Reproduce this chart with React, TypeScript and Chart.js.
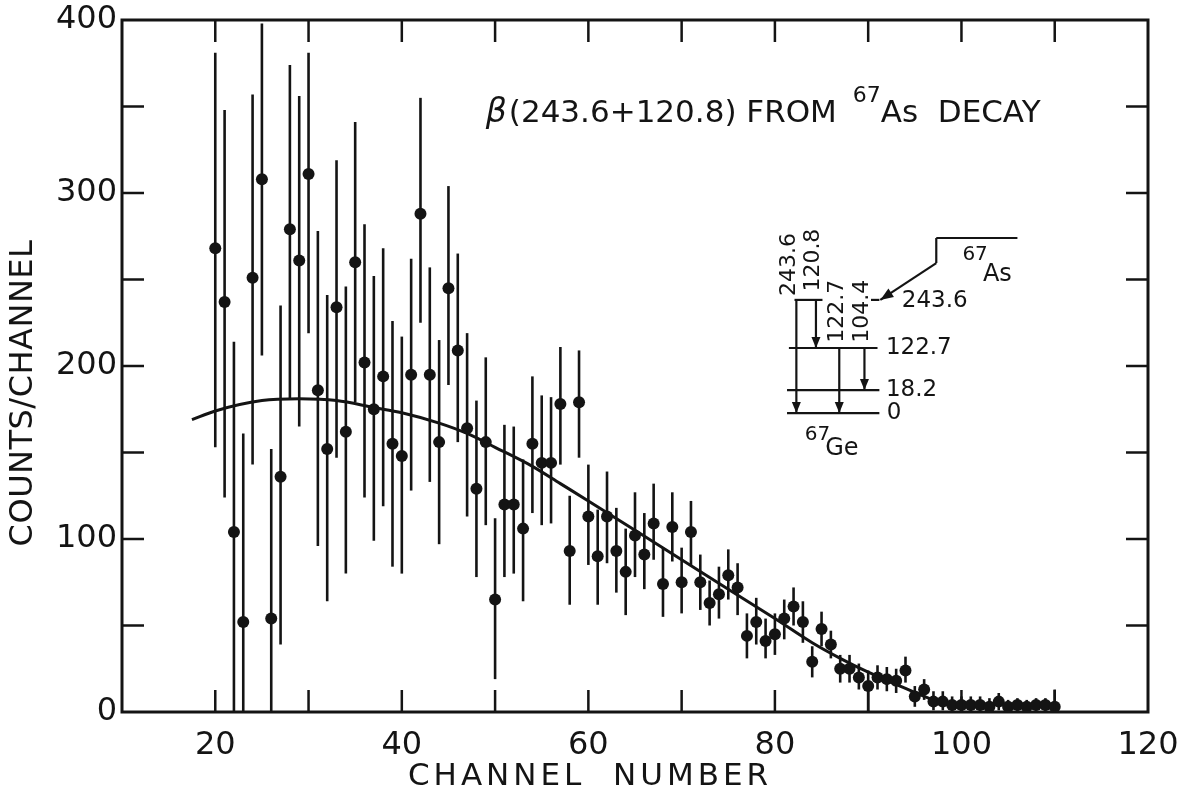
import React, { useEffect, useRef } from 'react';
import { Chart, registerables } from 'chart.js';

Chart.register(...registerables);

// ---- data ----
const channels = [
  20, 21, 22, 23, 24, 25, 26, 27, 28, 29,
  30, 31, 32, 33, 34, 35, 36, 37, 38, 39,
  40, 41, 42, 43, 44, 45, 46, 47, 48, 49,
  50, 51, 52, 53, 54, 55, 56, 57, 58, 59,
  60, 61, 62, 63, 64, 65, 66, 67, 68, 69,
  70, 71, 72, 73, 74, 75, 76, 77, 78, 79,
  80, 81, 82, 83, 84, 85, 86, 87, 88, 89,
  90, 91, 92, 93, 94, 95, 96, 97, 98, 99,
  100, 101, 102, 103, 104, 105, 106, 107, 108, 109, 110,
];
const counts = [
  268, 237, 104, 52, 251, 308, 54, 136, 279, 261,
  311, 186, 152, 234, 162, 260, 202, 175, 194, 155,
  148, 195, 288, 195, 156, 245, 209, 164, 129, 156,
  65, 120, 120, 106, 155, 144, 144, 178, 93, 179,
  113, 90, 113, 93, 81, 102, 91, 109, 74, 107,
  75, 104, 75, 63, 68, 79, 72, 44, 52, 41,
  45, 54, 61, 52, 29, 48, 39, 25, 25, 20,
  15, 20, 19, 18, 24, 9, 13, 6, 6, 4,
  4, 4, 4, 3, 6, 3, 4, 3, 4, 4, 3,
];
const errHigh = [
  381, 348, 214, 161, 357, 398, 152, 235, 374, 356,
  381, 278, 241, 319, 246, 341, 282, 252, 268, 226,
  217, 262, 355, 257, 215, 304, 265, 219, 180, 205,
  112, 166, 165, 146, 194, 183, 182, 211, 125, 209,
  143, 117, 139, 118, 106, 127, 115, 132, 95, 127,
  95, 122, 91, 76, 84, 94, 86, 57, 66, 54,
  57, 65, 72, 64, 38, 58, 47, 33, 33, 28,
  24, 27, 26, 25, 32, 15, 19, 12, 12, 9,
  9, 9, 9, 8, 11, 7, 8, 7, 8, 8, 13,
];
const errLow = [
  153, 124, 0, 0, 143, 206, 0, 39, 181, 165,
  219, 96, 64, 147, 80, 179, 124, 99, 119, 84,
  80, 128, 225, 133, 97, 189, 156, 113, 78, 108,
  19, 78, 80, 64, 115, 108, 109, 143, 62, 147,
  85, 62, 86, 69, 56, 78, 71, 88, 55, 87,
  57, 85, 59, 50, 54, 65, 56, 31, 39, 31,
  33, 42, 50, 40, 20, 38, 31, 17, 17, 13,
  0, 13, 12, 11, 17, 3, 7, 1, 1, 0,
  0, 0, 0, 0, 1, 0, 0, 0, 0, 0, 0,
];
const fitChannels = [17.5, 20, 25, 29, 33, 37, 40, 44, 47, 50, 54, 57, 60, 65, 70, 75, 80, 84, 87, 90, 93, 96, 98, 100];
const fitCounts = [169, 174, 180, 181, 180, 176, 173, 167, 161, 153, 142, 132, 122, 105, 88, 71, 54, 40, 31, 23, 16, 9, 5, 2];
const xTickLabels = [20, 40, 60, 80, 100, 120];
const yTickLabels = [0, 100, 200, 300, 400];

const FONT = '"DejaVu Sans", sans-serif';
const INK = '#141414';

const errorBarPlugin = {
  id: 'errorBars',
  beforeDatasetsDraw(chart: any) {
    const { ctx, scales } = chart;
    const x = scales.x, y = scales.y;
    ctx.save();
    ctx.strokeStyle = INK;
    ctx.lineWidth = 2.6;
    for (let i = 0; i < channels.length; i++) {
      const px = x.getPixelForValue(channels[i]);
      ctx.beginPath();
      ctx.moveTo(px, y.getPixelForValue(errHigh[i]));
      ctx.lineTo(px, y.getPixelForValue(errLow[i]));
      ctx.stroke();
    }
    ctx.restore();
  },
};

function arrowHead(ctx: CanvasRenderingContext2D, x0: number, y0: number, x1: number, y1: number, len = 11, half = 4.5) {
  const a = Math.atan2(y1 - y0, x1 - x0);
  ctx.beginPath();
  ctx.moveTo(x1, y1);
  ctx.lineTo(x1 - len * Math.cos(a) + half * Math.sin(a), y1 - len * Math.sin(a) - half * Math.cos(a));
  ctx.lineTo(x1 - len * Math.cos(a) - half * Math.sin(a), y1 - len * Math.sin(a) + half * Math.cos(a));
  ctx.closePath();
  ctx.fill();
}

const framePlugin = {
  id: 'frame',
  afterDraw(chart: any) {
    const { ctx, chartArea: a, scales } = chart;
    const x = scales.x, y = scales.y;
    const px = (v: number) => x.getPixelForValue(v);
    const py = (v: number) => y.getPixelForValue(v);
    ctx.save();
    ctx.strokeStyle = INK;
    ctx.fillStyle = INK;
    ctx.lineWidth = 3;
    ctx.strokeRect(a.left, a.top, a.right - a.left, a.bottom - a.top);
    // inward ticks
    const TL = 22;
    ctx.lineWidth = 2.5;
    x.ticks.forEach((t: any) => {
      if (t.value <= x.min || t.value >= x.max) return;
      const p = px(t.value);
      ctx.beginPath();
      ctx.moveTo(p, a.bottom); ctx.lineTo(p, a.bottom - TL);
      ctx.moveTo(p, a.top); ctx.lineTo(p, a.top + TL);
      ctx.stroke();
    });
    y.ticks.forEach((t: any) => {
      if (t.value <= y.min || t.value >= y.max) return;
      const p = py(t.value);
      ctx.beginPath();
      ctx.moveTo(a.left, p); ctx.lineTo(a.left + TL, p);
      ctx.moveTo(a.right, p); ctx.lineTo(a.right - TL, p);
      ctx.stroke();
    });

    // axis titles
    ctx.textBaseline = 'middle';
    ctx.textAlign = 'center';
    ctx.font = `31px ${FONT}`;
    (ctx as any).letterSpacing = '4px';
    ctx.fillText('CHANNEL  NUMBER', 590, 777);
    ctx.save();
    ctx.translate(24, 393);
    ctx.rotate(-Math.PI / 2);
    (ctx as any).letterSpacing = '0.5px';
    ctx.font = `32px ${FONT}`;
    ctx.fillText('COUNTS/CHANNEL', 0, 0);
    ctx.restore();
    (ctx as any).letterSpacing = '0px';

    // title annotation
    ctx.textAlign = 'left';
    ctx.textBaseline = 'alphabetic';
    let tx = px(49.0);
    const ty = py(341);
    ctx.font = `italic 33px ${FONT}`;
    ctx.fillText('β', tx, ty);
    tx += ctx.measureText('β').width + 2;
    ctx.font = `31px ${FONT}`;
    const part1 = '(243.6+120.8) FROM ';
    ctx.fillText(part1, tx, ty);
    tx += ctx.measureText(part1).width + 6;
    ctx.font = `22px ${FONT}`;
    ctx.fillText('67', tx, ty - 20);
    tx += ctx.measureText('67').width;
    ctx.font = `31px ${FONT}`;
    ctx.fillText('As  DECAY', tx, ty);

    // decay scheme inset
    ctx.lineWidth = 2.2;
    const seg = (c0: number, v0: number, c1: number, v1: number) => {
      ctx.beginPath();
      ctx.moveTo(px(c0), py(v0));
      ctx.lineTo(px(c1), py(v1));
      ctx.stroke();
    };
    // levels
    seg(82.1, 238.2, 85.1, 238.2);
    seg(90.3, 238.2, 91.2, 238.2);
    seg(81.5, 210.4, 91.0, 210.4);
    seg(81.3, 186.1, 91.2, 186.1);
    seg(81.3, 172.8, 91.2, 172.8);
    // transitions
    const down = (c: number, v0: number, v1: number) => {
      seg(c, v0, c, v1);
      arrowHead(ctx, px(c), py(v0), px(c), py(v1));
    };
    down(82.3, 238.2, 172.8);
    down(84.4, 238.2, 210.4);
    down(86.9, 210.4, 172.8);
    down(89.6, 210.4, 186.1);
    // parent level and feeding arrow
    seg(97.3, 274, 106.0, 274);
    seg(97.3, 274, 97.3, 259.5);
    seg(97.3, 259.5, 91.3, 238.2);
    arrowHead(ctx, px(97.3), py(259.5), px(91.3), py(238.2), 13, 5);

    // level / transition labels
    ctx.textBaseline = 'middle';
    ctx.textAlign = 'left';
    ctx.font = `23px ${FONT}`;
    ctx.fillText('243.6', px(93.6), py(237.6));
    ctx.fillText('122.7', px(91.9), py(210.4));
    ctx.fillText('18.2', px(91.9), py(186.1));
    ctx.fillText('0', px(92.0), py(172.8));
    ctx.font = `20px ${FONT}`;
    ctx.fillText('67', px(100.1), py(264.5));
    ctx.fillText('67', px(83.2), py(160.5));
    ctx.font = `24px ${FONT}`;
    ctx.fillText('As', px(102.3), py(252.5));
    ctx.fillText('Ge', px(85.4), py(152.3));

    const vlabel = (text: string, c: number, vBottom: number) => {
      ctx.save();
      ctx.translate(px(c), py(vBottom));
      ctx.rotate(-Math.PI / 2);
      ctx.textAlign = 'left';
      ctx.textBaseline = 'middle';
      ctx.font = `22px ${FONT}`;
      ctx.fillText(text, 0, 0);
      ctx.restore();
    };
    vlabel('243.6', 81.55, 240.5);
    vlabel('120.8', 84.1, 243);
    vlabel('122.7', 86.7, 213.5);
    vlabel('104.4', 89.4, 213.5);

    ctx.restore();
  },
};

export default function App() {
  const ref = useRef<HTMLCanvasElement>(null);
  useEffect(() => {
    if (!ref.current) return;
    const chart = new Chart(ref.current, {
      type: 'scatter',
      data: {
        datasets: [
          {
            label: 'data',
            data: channels.map((c, i) => ({ x: c, y: counts[i] })),
            pointRadius: 6,
            pointBackgroundColor: INK,
            pointBorderColor: INK,
            pointBorderWidth: 0,
            showLine: false,
          },
          {
            label: 'fit',
            data: fitChannels.map((c, i) => ({ x: c, y: fitCounts[i] })),
            showLine: true,
            borderColor: INK,
            borderWidth: 3,
            pointRadius: 0,
            cubicInterpolationMode: 'monotone',
            fill: false,
          } as any,
        ],
      },
      options: {
        responsive: false,
        animation: false,
        layout: { padding: { top: 20, right: 34, left: 0, bottom: 0 } },
        plugins: { legend: { display: false }, tooltip: { enabled: false } },
        scales: {
          x: {
            type: 'linear',
            min: 10,
            max: 120,
            grid: { display: false, drawTicks: false },
            border: { display: false },
            ticks: {
              stepSize: 10,
              autoSkip: false,
              maxRotation: 0,
              padding: 14,
              color: INK,
              font: { family: FONT, size: 32 },
              callback: (v: any) => (xTickLabels.includes(Number(v)) ? String(v) : ''),
            },
            afterFit: (s: any) => { s.height = 83; s.paddingLeft = 0; s.paddingRight = 0; },
          },
          y: {
            type: 'linear',
            min: 0,
            max: 400,
            grid: { display: false, drawTicks: false },
            border: { display: false },
            ticks: {
              stepSize: 50,
              autoSkip: false,
              padding: 5,
              color: INK,
              font: { family: FONT, size: 32 },
              callback: (v: any) => (yTickLabels.includes(Number(v)) ? String(v) : ''),
            },
            afterFit: (s: any) => { s.width = 122; s.paddingTop = 0; s.paddingBottom = 0; },
          },
        },
      },
      plugins: [errorBarPlugin, framePlugin],
    } as any);
    return () => chart.destroy();
  }, []);
  return (
    <div style={{ position: 'absolute', left: 0, top: 0, width: 1182, height: 795, background: '#fff' }}>
      <canvas ref={ref} width={1182} height={795} />
    </div>
  );
}
